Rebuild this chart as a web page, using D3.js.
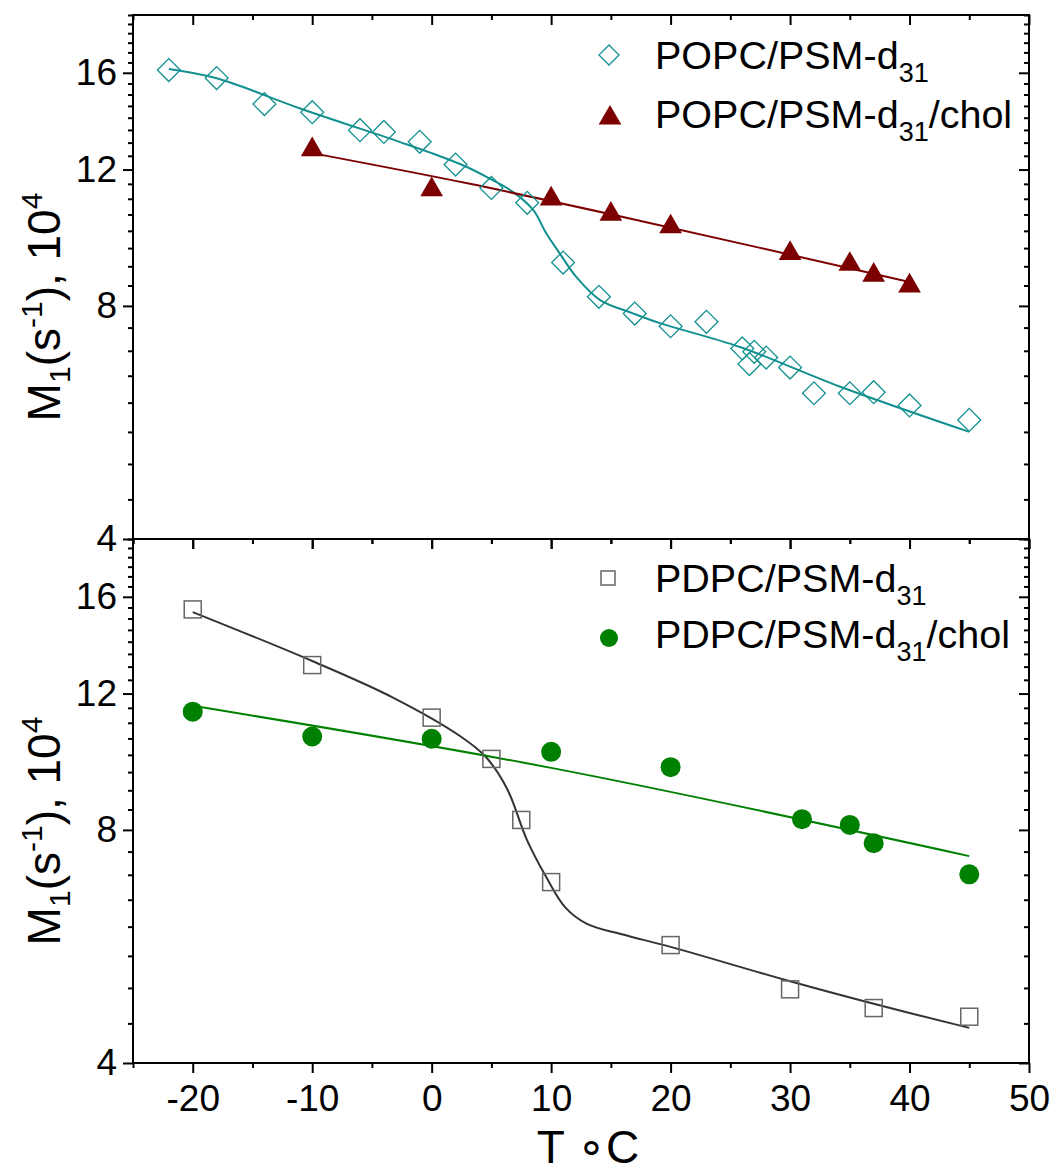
<!doctype html>
<html>
<head>
<meta charset="utf-8">
<script src="https://cdn.jsdelivr.net/npm/d3@7"></script>
<style>
  body { margin: 0; background: #fff; }
  text { font-family: "Liberation Sans", Arial, sans-serif; fill: #000; }
</style>
</head>
<body>
<svg id="chart" width="1054" height="1172"></svg>
<script>
// top panel: POPC/PSM-d31
var tPOPC = [-22, -18, -14, -10, -6, -4, -1, 2, 5, 8, 11, 14, 17, 20, 23, 26, 26.6, 27, 28, 30, 32, 35, 37, 40, 45];
var mPOPC = [16.13, 15.75, 14.58, 14.23, 13.49, 13.42, 13.03, 12.18, 11.36, 10.87, 9.10, 8.22, 7.82, 7.53, 7.63, 7.05, 6.73, 6.98, 6.86, 6.66, 6.17, 6.17, 6.19, 5.95, 5.70];
var tPOPCchol = [-10, 0, 10, 15, 20, 30, 35, 37, 40];
var mPOPCchol = [12.85, 11.41, 11.10, 10.61, 10.22, 9.44, 9.14, 8.85, 8.57];
// fit curves
var fitTPOPC = [-22, -18, -11, -2.7, 0, 2.9, 5, 6.8, 8.5, 9.6, 10.7, 12.1, 14.1, 16.8, 19.1, 25.8, 34.2, 45];
var fitMPOPC = [16.18, 15.74, 14.39, 13.03, 12.60, 12.10, 11.65, 11.23, 10.64, 9.92, 9.36, 8.72, 8.14, 7.83, 7.60, 7.08, 6.29, 5.50];
var fitTPOPCchol = [-10, 3.2, 17.5, 40];
var fitMPOPCchol = [12.6, 11.5, 10.3, 8.59];

// bottom panel: PDPC/PSM-d31
var tPDPC = [-20, -10, 0, 5, 7.5, 10, 20, 30, 37, 45];
var mPDPC = [15.41, 13.06, 11.17, 9.88, 8.24, 6.85, 5.68, 4.98, 4.71, 4.59];
var tPDPCchol = [-20, -10, 0, 10, 20, 31, 35, 37, 45];
var mPDPCchol = [11.37, 10.56, 10.49, 10.09, 9.64, 8.26, 8.12, 7.69, 7.01];
var fitTPDPC = [-20, -10, -3.2, 2.4, 4.5, 6.3, 8, 9.6, 11.2, 13, 16, 20, 30, 37, 45];
var fitMPDPC = [15.29, 13.22, 11.85, 10.57, 9.95, 9.05, 7.75, 6.95, 6.35, 6.05, 5.86, 5.65, 5.10, 4.77, 4.44];
var fitTPDPCchol = [-20, 10, 45];
var fitMPDPCchol = [11.57, 9.62, 7.40];

var xTicks = [-20, -10, 0, 10, 20, 30, 40, 50];
var xMinor = [-25, -15, -5, 5, 15, 25, 35, 45];
var yTicks = [4, 8, 12, 16];
var yMinor = d3.range(4.5, 19.01, 0.5).filter(function(v) { return v % 4 !== 0; });

var svg = d3.select("#chart");
var left = 133, right = 1029;
var x = d3.scaleLinear().domain([-25, 50]).range([left, right]);

function zip(a, b) { return a.map(function(d, i) { return [d, b[i]]; }); }
function plain(d) { return String(d); }

function panel(top, bottom, isLast) {
  var y = d3.scaleLog().domain([4, 19]).range([bottom, top]);
  var g = svg.append("g");

  // left axis (outside ticks with labels)
  g.append("g").attr("transform", "translate(" + left + ",0)")
    .call(d3.axisLeft(y).tickValues(yTicks).tickSize(10).tickPadding(6).tickFormat(plain));
  g.append("g").attr("transform", "translate(" + left + ",0)")
    .call(d3.axisLeft(y).tickValues(yMinor).tickSize(5).tickFormat(""));
  // right axis (inside ticks)
  g.append("g").attr("transform", "translate(" + right + ",0)")
    .call(d3.axisLeft(y).tickValues(yTicks).tickSize(10).tickFormat(""));
  g.append("g").attr("transform", "translate(" + right + ",0)")
    .call(d3.axisLeft(y).tickValues(yMinor).tickSize(5).tickFormat(""));
  // top edge, ticks pointing down
  g.append("g").attr("transform", "translate(0," + top + ")")
    .call(d3.axisBottom(x).tickValues(xTicks).tickSize(10).tickFormat(""));
  g.append("g").attr("transform", "translate(0," + top + ")")
    .call(d3.axisBottom(x).tickValues(xMinor).tickSize(5).tickFormat(""));
  // bottom edge
  var xa = d3.axisBottom(x).tickValues(xTicks).tickSize(10).tickPadding(12).tickFormat(plain);
  if (!isLast) xa.tickFormat("");
  g.append("g").attr("transform", "translate(0," + bottom + ")").call(xa);
  g.append("g").attr("transform", "translate(0," + bottom + ")")
    .call(d3.axisBottom(x).tickValues(xMinor).tickSize(5).tickFormat(""));

  g.selectAll(".domain").remove();
  g.selectAll(".tick line").attr("stroke", "#000").attr("stroke-width", 2);
  g.selectAll(".tick text").attr("font-size", 37).attr("fill", "#000")
    .style("font-family", "'Liberation Sans', Arial, sans-serif");

  g.append("rect").attr("x", left).attr("y", top)
    .attr("width", right - left).attr("height", bottom - top)
    .attr("fill", "none").attr("stroke", "#000").attr("stroke-width", 2);

  // y title
  var yt = g.append("text")
    .attr("transform", "translate(60," + ((top + bottom) / 2 + 30) + ") rotate(-90)")
    .attr("text-anchor", "middle").attr("font-size", 46);
  yt.append("tspan").text("M");
  yt.append("tspan").attr("font-size", 30).attr("dy", 10).text("1");
  yt.append("tspan").attr("dy", -10).text("(s");
  yt.append("tspan").attr("font-size", 30).attr("dy", -18).text("-1");
  yt.append("tspan").attr("dy", 18).text("), 10");
  yt.append("tspan").attr("font-size", 30).attr("dy", -18).text("4");

  return { g: g, y: y };
}

var line = function(y) {
  return d3.line().x(function(d) { return x(d[0]); }).y(function(d) { return y(d[1]); })
    .curve(d3.curveCatmullRom.alpha(0.5));
};

var cyan = "#129090", wine = "#7d0000", green = "#008000", grey = "#666666";

// ---- top panel
var p1 = panel(15, 539, false);
p1.g.append("path").datum(zip(fitTPOPC, fitMPOPC)).attr("d", line(p1.y))
  .attr("fill", "none").attr("stroke", cyan).attr("stroke-width", 2);
p1.g.append("path").datum(zip(fitTPOPCchol, fitMPOPCchol)).attr("d", line(p1.y))
  .attr("fill", "none").attr("stroke", wine).attr("stroke-width", 2);

var diamond = d3.symbol().type(d3.symbolSquare).size(262);
var tri = d3.symbol().type(d3.symbolTriangle).size(223);

p1.g.selectAll(".dia").data(zip(tPOPC, mPOPC)).enter().append("path")
  .attr("d", diamond)
  .attr("transform", function(d) { return "translate(" + x(d[0]) + "," + p1.y(d[1]) + ") rotate(45)"; })
  .attr("fill", "none").attr("stroke", cyan).attr("stroke-width", 1.3);
p1.g.selectAll(".tri").data(zip(tPOPCchol, mPOPCchol)).enter().append("path")
  .attr("d", tri)
  .attr("transform", function(d) { return "translate(" + x(d[0]) + "," + (p1.y(d[1]) + 3.2) + ")"; })
  .attr("fill", wine);

// ---- bottom panel
var p2 = panel(539, 1063, true);
p2.g.append("path").datum(zip(fitTPDPC, fitMPDPC)).attr("d", line(p2.y))
  .attr("fill", "none").attr("stroke", "#333").attr("stroke-width", 2);
p2.g.append("path").datum(zip(fitTPDPCchol, fitMPDPCchol)).attr("d", line(p2.y))
  .attr("fill", "none").attr("stroke", green).attr("stroke-width", 2);

p2.g.selectAll(".sq").data(zip(tPDPC, mPDPC)).enter().append("rect")
  .attr("x", function(d) { return x(d[0]) - 8.5; })
  .attr("y", function(d) { return p2.y(d[1]) - 8.5; })
  .attr("width", 17).attr("height", 17)
  .attr("fill", "none").attr("stroke", grey).attr("stroke-width", 1.5);
p2.g.selectAll(".dot").data(zip(tPDPCchol, mPDPCchol)).enter().append("circle")
  .attr("cx", function(d) { return x(d[0]); })
  .attr("cy", function(d) { return p2.y(d[1]); })
  .attr("r", 10).attr("fill", green);

// ---- legends
function legendText(gx, gy, lead, tail) {
  var t = svg.append("text").attr("x", gx).attr("y", gy).attr("font-size", 39.5);
  t.append("tspan").text(lead);
  t.append("tspan").attr("font-size", 27).attr("dy", 13).text("31");
  if (tail) t.append("tspan").attr("dy", -13).text(tail);
}
svg.append("path").attr("d", d3.symbol().type(d3.symbolSquare).size(200))
  .attr("transform", "translate(609,55) rotate(45)")
  .attr("fill", "none").attr("stroke", cyan).attr("stroke-width", 1.3);
legendText(655, 69, "POPC/PSM-d", null);
svg.append("path").attr("d", tri).attr("transform", "translate(610,118)").attr("fill", wine);
legendText(655, 128, "POPC/PSM-d", "/chol");

svg.append("rect").attr("x", 601).attr("y", 571).attr("width", 14).attr("height", 14)
  .attr("fill", "none").attr("stroke", grey).attr("stroke-width", 1.5);
legendText(655, 592, "PDPC/PSM-d", null);
svg.append("circle").attr("cx", 609).attr("cy", 638).attr("r", 9).attr("fill", green);
legendText(655, 648, "PDPC/PSM-d", "/chol");

// x title
svg.append("text").attr("x", 588).attr("y", 1163).attr("text-anchor", "middle")
  .attr("font-size", 46).text("T \u2218C");
</script>
</body>
</html>
